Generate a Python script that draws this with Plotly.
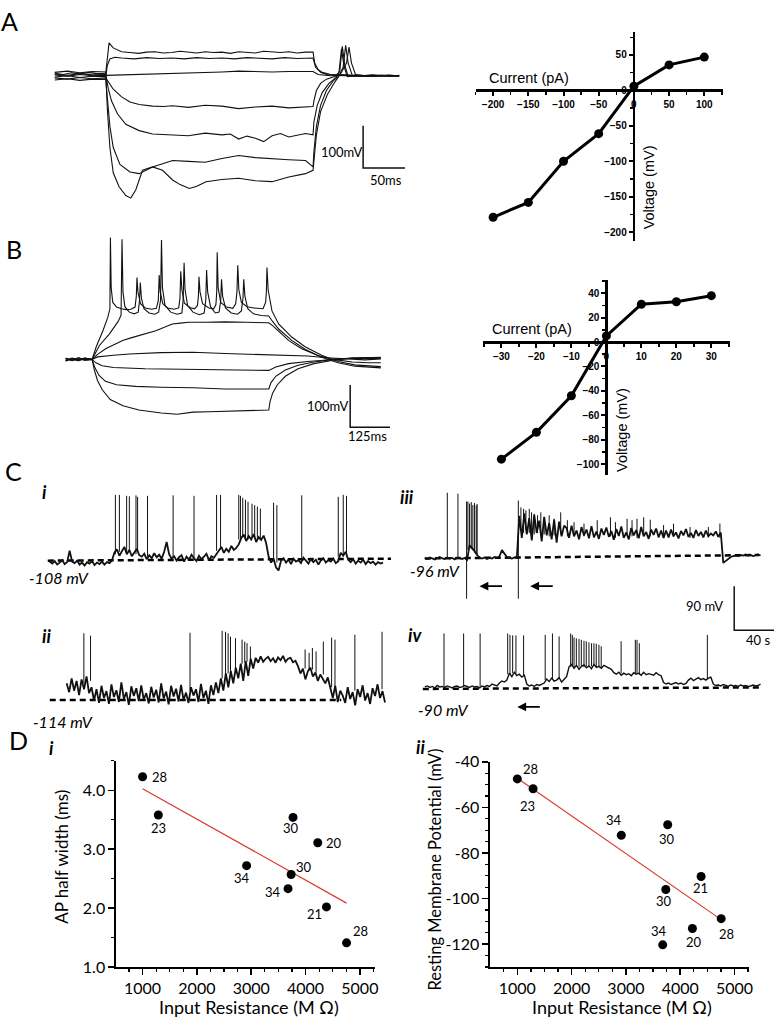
import numpy as np
import plotly.graph_objects as go

W, H = 780, 1028

# ---------------- Panel A: current-clamp steps (ms, mV relative to rest) ----------------
a1_t = [0,10,20,30,40,50,61,63,65,70,80,90,100,110,120,130,140,150,160,170,180,190,200,210,220,230,240,250,260,270,280,290,300,309,311,315,320,330,345,360,380,400,412]
a1_v = [6,3,7,4,8,5,6,40,78,66,57,55,53,56,57,54,55,58,56,54,57,55,56,53,57,55,54,58,56,55,57,54,56,56,30,15,8,3,2,-1,2,-1,1]
a2_t = [0,15,30,45,61,63,66,72,80,95,110,125,140,155,170,185,200,215,230,245,260,275,290,309,312,318,325,340,360,380,400,412]
a2_v = [-3,0,-4,-1,-2,25,40,44,42,40,43,41,42,40,43,41,42,40,43,42,40,43,41,42,20,8,3,1,-1,1,0,-1]
a3_t = [0,15,30,45,61,80,100,120,140,160,180,200,220,240,260,280,300,309,315,330,350,370,390,412]
a3_v = [2,-1,3,0,1,2,4,5,6,6,7,9,11,10,9,10,9,10,3,0,2,-1,1,0]
a4_t = [0,15,30,45,61,65,70,80,90,101,117,130,141,160,180,200,220,240,260,280,300,309,310,313,318,325,335,340,343,346,350,360,380,400,412]
a4_v = [-5,-8,-4,-7,-5,-18,-32,-50,-62,-68,-72,-73,-71,-75,-70,-72,-78,-74,-72,-76,-73,-73,-60,-35,-18,-8,-2,8,64,22,-2,1,-1,1,0]
a5_t = [0,15,30,45,61,64,68,75,85,101,117,140,160,180,200,210,220,230,240,250,260,270,280,300,309,310,314,320,328,336,341,344,347,351,360,380,400,412]
a5_v = [4,1,5,2,3,-30,-60,-90,-115,-130,-138,-140,-142,-136,-140,-138,-150,-143,-148,-156,-142,-137,-145,-137,-140,-110,-70,-40,-18,-5,12,70,25,-2,2,-1,1,0]
a6_t = [0,15,30,45,61,63,66,70,78,90,101,117,130,141,160,180,200,220,240,260,280,300,309,310,313,318,325,333,340,345,348,351,356,370,390,412]
a6_v = [-10,-7,-11,-8,-9,-60,-120,-170,-210,-228,-232,-216,-208,-201,-203,-205,-196,-189,-194,-197,-199,-201,-216,-180,-120,-70,-35,-12,0,20,72,30,0,-1,1,0]
a7_t = [0,15,30,45,61,63,66,70,77,85,91,97,105,117,129,141,150,161,170,181,200,220,240,260,280,300,309,310,313,318,326,335,342,349,352,355,360,380,400,412]
a7_v = [8,11,7,10,9,-80,-170,-230,-263,-284,-290,-270,-224,-216,-224,-247,-258,-267,-262,-251,-246,-243,-249,-251,-240,-232,-224,-200,-140,-85,-45,-15,5,30,68,30,2,-1,1,0]

ivA_current = [-200, -150, -100, -50, 0, 50, 100]
ivA_voltage = [-179, -158, -100, -61, 6, 36, 47]

# ---------------- Panel B ----------------
b_h1_t = [0,20,40,60,83,100,150,200,300,400,500,600,638,700,760,820,880,940,990]
b_h1_v = [3,-2,4,-1,0,6,10,13,16,17,14,12,11,10,8,4,1,-1,1]
b_h2_t = [0,20,40,60,83,95,115,150,250,350,450,550,620,638,660,700,760,820,880,940,990]
b_h2_v = [-4,1,-3,2,0,-8,-15,-19,-22,-23,-24,-26,-27,-26,-18,-10,-5,-2,2,3,2]
b_h3_t = [0,20,40,60,83,92,105,125,160,220,300,400,500,600,638,645,660,690,730,780,840,900,990]
b_h3_v = [2,-3,1,-2,0,-20,-38,-52,-60,-64,-66,-67,-70,-71,-70,-55,-40,-25,-14,-6,0,3,4]
b_h4_t = [0,20,40,60,83,90,100,115,140,180,230,300,350,400,450,500,560,600,638,642,650,665,690,730,780,840,900,990]
b_h4_v = [-2,2,-1,3,0,-25,-50,-72,-95,-110,-120,-127,-130,-125,-124,-123,-121,-120,-120,-100,-80,-60,-40,-22,-10,-2,3,5]
b_s1_t = [0,20,40,60,83,96,117,132,139,140.6,143,148,160,175,190,205,218,222,224,227,235,250,270,285,291,293.8,297,305,320,340,355,359,361.5,365,373,390,405,414,417,418.8,422,430,450,465,472,474.5,476,479,487,505,525,534,538,540.6,544,552,570,590,620,628,630.5,632.3,636,648,669,710,752,804,856,908,990]
b_s1_v = [-4,2,-3,3,0,30,68,99,120,289,170,135,124,120,118,119,124,150,194,160,132,122,119,121,140,200,160,132,122,119,122,145,209,165,133,123,120,128,150,196,160,132,122,120,130,160,254,170,135,124,121,132,160,223,165,135,125,122,120,135,160,218,165,115,84,53,30,10,-5,-13,-17]
b_s2_t = [0,20,40,60,83,106,137,165,174,177,180,186,200,215,228,232,234.4,238,246,262,280,292,298,301,304,312,330,350,365,369,372,375,383,400,420,435,440,442.7,446,455,470,482,487,489.6,493,502,520,540,552,557,559.4,563,572,590,615,638,650,669,710,752,804,856,908,990]
b_s2_v = [3,-2,4,-1,0,33,60,90,105,285,160,125,112,108,112,140,182,145,120,110,107,112,140,283,170,128,112,107,110,140,229,165,128,112,106,110,140,212,160,125,110,112,140,190,150,122,110,107,115,145,190,150,120,108,104,103,90,72,45,24,5,-8,-16,-20]
b_s3_t = [0,20,40,60,83,100,127,150,179,205,231,258,283,310,335,360,387,440,502,565,610,638,650,670,700,740,790,840,900,950,990]
b_s3_v = [-2,3,-1,2,0,12,26,35,45,51,57,62,68,76,84,86,88,88,89,88,87,87,80,65,45,26,10,0,-6,-8,-8]

ivB_current = [-30, -20, -10, 0, 10, 20, 30]
ivB_voltage = [-96, -74, -44, 5, 31, 33, 38]

# ---------------- Panel C: spontaneous activity (samples every 2.5 s, mV) ----------------
C_DT = 2.5
ci_v = [-110,-114,-109,-116,-112,-107,-115,-111,-88,-110,-113,-108,-116,-112,-118,-111,-114,-109,-117,-112,-115,-110,-116,-111,-113,-108,
        -92,-85,-98,-88,-80,-95,-86,-99,-90,-84,-97,
        -100,-94,-105,-97,-103,-93,-101,-96,-104,-90,-70,
        -95,-104,-99,-108,-101,-97,-110,-100,-106,-96,-103,-109,-98,-105,-100,-94,-107,-99,-102,-95,
        -88,-80,-92,-84,-90,-78,-86,-82,-75,
        -62,-55,-68,-58,-65,-54,-70,-60,-66,-57,-72,
        -100,-112,-104,-122,-128,
        -108,-103,-112,-106,-115,-104,-110,-107,-113,-102,-109,-114,-105,-111,-106,-116,-108,-103,-112,-107,
        -110,-104,-113,-109,-92,-98,-90,-106,-111,-105,-114,-108,-112,-106,-115,-109,-113,-110,-116,-111,-114,-112]
ci_spike_t = [66,70,77.3,80,86.7,88.3,98.3,124,145,167.7,171.7,190,191.7,194,196.7,199.3,203.3,206,208.7,211.7,225,228.3,253.3,290,295,298.3]
ci_spike_top = [26,26,24,23,25,22,24,25,24,26,26,26,24,20,16,12,8,5,2,-2,10,5,25,22,26,24]
ci_spike_base = [-95,-90,-92,-88,-95,-90,-100,-100,-102,-88,-85,-65,-62,-60,-62,-65,-60,-62,-64,-66,-110,-112,-108,-100,-96,-100]
ci_rest_t = [-2, 343]
ci_rest_v = [-108, -104]

cii_v = [-80,-98,-70,-95,-75,-104,-72,-92,-66,-100,
         -88,-115,-92,-120,-85,-110,-96,-122,-82,-108,-94,-118,-78,-112,-98,-124,-86,-106,-90,-116,
         -84,-113,-100,-121,-87,-109,-93,-119,-80,-111,-97,-123,-85,-107,-91,-117,-83,-114,-99,-120,
         -88,-105,-92,-118,-81,-110,-95,-122,-84,-104,-78,-100,
         -70,-95,-60,-88,-55,-80,-48,-70,
         -40,-75,-35,-65,-30,-50,-28,-38,-25,-36,-30,-26,-35,-29,-38,-27,-33,-24,-36,-30,-28,-37,-34,
         -45,-60,-50,-72,-55,-48,-66,-58,-75,-62,-70,-80,-68,
         -90,-110,-85,-118,-95,-105,-120,-88,-112,-98,-125,-92,-108,-84,-115,-100,-122,-90,-106,-82,-110,-96,-119]
cii_spike_t = [17.3,24,124,156.3,159.7,162.3,164.7,169.7,176.3,179,181.3,184.7,239.7,243.7,247,250.7,258,266.3,269.7,289.7,317]
cii_spike_top = [22,17,23,27,25,22,15,12,9,5,2,-5,-11,-18,-8,-15,5,13,9,19,25]
cii_spike_base = [-80,-75,-95,-70,-65,-60,-55,-50,-40,-38,-36,-35,-50,-55,-52,-58,-62,-88,-90,-95,-92]
cii_rest_t = [-17, 276]
cii_rest_v = [-114, -114]

ciii_v = [-96,-98,-95,-97,-99,-96,-94,-97,-98,-95,-97,-96,-99,-95,-97,-98,-96,
          -100,
          -70,-75,-82,-90,-95,
          -97,-95,-98,-96,-97,-94,-96,-93,-80,-86,-94,-96,-97,-95,-96,
          -10,-55,-5,-48,-15,-60,-8,-45,-20,-62,-12,-50,-25,-58,-18,-65,-22,-52,-30,
          -35,-55,-30,-52,-40,-58,-33,-50,-38,-56,-31,-54,-42,-57,-36,-49,-34,-53,-41,-59,
          -37,-51,-32,-55,-44,-58,-35,-50,-39,-56,-33,-52,-43,-57,-38,-49,-36,-54,-40,-55,
          -40,-54,-38,-52,-44,-56,-41,-50,-37,-53,-45,-55,-39,-51,-43,-54,-40,-52,-46,-50,-42,-53,-44,
          -106,-102,-98,-94,-92,-91,-92,-90,-91,-89,-91,-90,-92,-90,-89,-91]
ciii_spike_t = [22.6,33.3,43.3,45,46.7,48.3,50,51.7,52.6,96.6,99.3,101.6,105,107.3,110,113.3,116.6,120,125,130,136.6,143.3,150,160,173.3,186.6,191.6,203.3,208.3,213.3,220,226.6,240,250,266.6,285,296.6]
ciii_spike_top = [37,35,19,15,18,12,16,11,14,7,4,1,4,-3,-6,-9,-3,-13,-9,-16,-3,-19,-23,-26,-19,-13,-23,-16,-19,-16,-13,-18,-29,-26,-33,-33,-26]
ciii_spike_base = [-96,-96,-80,-75,-78,-80,-85,-88,-90,-40,-45,-40,-45,-42,-48,-45,-50,-48,-52,-50,-48,-52,-50,-52,-50,-52,-55,-50,-52,-55,-50,-52,-55,-52,-55,-52,-55]
ciii_defl_t = [42, 94]
ciii_defl_top = [19, 21]
ciii_defl_base = [-179, -179]
ciii_rest_t = [0, 336]
ciii_rest_v = [-97, -90]

civ_v = [-86,-84,-87,-85,-88,-83,-86,-85,-87,-84,-86,-88,-85,-84,-87,-86,-83,-85,-87,-84,-86,-85,-88,-84,-86,-83,-85,-80,-82,-84,
         -78,-74,-76,-72,
         -58,-65,-56,-63,-60,-66,-62,
         -80,-84,-82,-85,-81,-83,-80,-78,
         -70,-75,-68,-74,-72,-67,-76,-70,-65,
         -45,-40,-48,-42,-50,-44,-41,-47,-43,-49,-40,-46,-44,-48,-42,-45,-47,-50,
         -57,-60,-56,-62,-58,-61,-59,-63,-57,-60,-58,-62,-56,-61,-59,-60,-62,-57,-61,-63,
         -77,-80,-78,-81,-79,-77,-80,-78,-81,-79,
         -72,-68,-73,-70,-67,-71,-69,-72,-68,-66,
         -80,-83,-82,-84,-81,-83,-85,-82,-84,-83,-85,-82,-84,-83,-85,-84,-82,-84,-83,-80]
civ_spike_t = [19.3,39,55.6,83.3,85.6,88.3,91.6,99.3,121,128.3,135,146.6,148.3,150,152.3,155,157.3,160,162.3,165,167.6,170,172.3,175,177.3,197.3,211.6,213.3,215.6,284]
civ_spike_top = [23,23,23,23,20,19,19,19,20,23,17,23,20,15,13,12,10,8,7,5,3,3,2,0,-3,7,10,10,3,20]
civ_spike_base = [-86,-85,-86,-60,-62,-58,-60,-62,-72,-70,-68,-45,-44,-46,-44,-45,-43,-46,-44,-45,-44,-42,-46,-44,-47,-58,-60,-58,-61,-70]
civ_rest_t = [-2, 338]
civ_rest_v = [-90, -87]

# scale bar sizes
scaleA = (50, 100)   # ms, mV
scaleB = (125, 100)  # ms, mV
scaleC = (40, 90)    # s, mV

# ---------------- Panel D ----------------
cell_age = ['28', '23', '34', '30', '20', '30', '34', '21', '28']
input_res = [1000, 1290, 2915, 3770, 4225, 3735, 3678, 4385, 4755]
ap_half_width = [4.23, 3.58, 2.72, 3.54, 3.11, 2.57, 2.33, 2.02, 1.41]
rmp = [-47.5, -51.8, -72.2, -67.6, -113.1, -96.0, -120.3, -90.3, -108.8]

# label offsets (px) for D points
di_off = [(17, 0), (0, 13), (-5, 12), (-2, 11), (16, 0), (13, -8), (-15, 3), (-12, 7), (14, -12)]
dii_off = [(13, -10), (-6, 17), (-7, -15), (-1, 14), (2, 14), (-2, 12), (-4, -14), (-1, 12), (5, 15)]

# ================= helpers =================
def clamp(v):
    return min(1.0, max(0.0, v))

def xdom(a, b):
    return [clamp(a / W), clamp(b / W)]

def ydom(a, b):
    return [clamp(1 - b / H), clamp(1 - a / H)]

def px(x):
    return x / W

def py(y):
    return 1 - y / H

ARIAL = "Liberation Sans, Arial, sans-serif"
LATO = "Lato, Noto Sans, sans-serif"
INK = "#111111"

fig = go.Figure()

def ax_name(n, k):
    return f"{k}{'' if n == 1 else n}"

def line(n, x, y, width=1.0, color=INK, dash=None, **kw):
    fig.add_trace(go.Scatter(x=x, y=y, mode="lines",
                             line=dict(color=color, width=width, dash=dash),
                             xaxis=ax_name(n, "x"), yaxis=ax_name(n, "y"),
                             hoverinfo="skip", **kw))

def samples(n, v, width=1.0):
    fig.add_trace(go.Scatter(y=v, x0=0, dx=C_DT, mode="lines",
                             line=dict(color=INK, width=width),
                             xaxis=ax_name(n, "x"), yaxis=ax_name(n, "y"), hoverinfo="skip"))

def spikes(n, ts, lows, highs, width=1.0):
    xs, ys = [], []
    for t, lo, hi in zip(ts, lows, highs):
        xs += [t, t, None]
        ys += [lo, hi, None]
    line(n, xs, ys, width=width)

def scalebar(n, corner_x, corner_y, lx, ly):
    line(n, [corner_x, corner_x, corner_x + lx], [corner_y + ly, corner_y, corner_y], width=1.5)

# ---- A traces ----
for t, v in [(a1_t, a1_v), (a2_t, a2_v), (a3_t, a3_v), (a4_t, a4_v), (a5_t, a5_v), (a6_t, a6_v), (a7_t, a7_v)]:
    line(1, t, v, width=1.1)
scalebar(1, 368.9, -218.6, scaleA[0], scaleA[1])

# ---- A IV ----
fig.add_trace(go.Scatter(x=ivA_current, y=ivA_voltage, mode="lines+markers",
                         line=dict(color="black", width=3), marker=dict(color="black", size=9),
                         xaxis="x2", yaxis="y2", hoverinfo="skip"))

# ---- B traces ----
for t, v in [(b_h1_t, b_h1_v), (b_h2_t, b_h2_v), (b_h3_t, b_h3_v), (b_h4_t, b_h4_v),
             (b_s3_t, b_s3_v), (b_s2_t, b_s2_v), (b_s1_t, b_s1_v)]:
    line(3, t, v, width=1.1)
scalebar(3, 893.75, -160.5, scaleB[0], scaleB[1])

# ---- B IV ----
fig.add_trace(go.Scatter(x=ivB_current, y=ivB_voltage, mode="lines+markers",
                         line=dict(color="black", width=3), marker=dict(color="black", size=9),
                         xaxis="x4", yaxis="y4", hoverinfo="skip"))

# ---- C ----
DASH = "6px,4px"
line(5, ci_rest_t, ci_rest_v, width=2.5, color="black", dash=DASH)
samples(5, ci_v, 1.8)
spikes(5, ci_spike_t, ci_spike_base, ci_spike_top)

line(6, cii_rest_t, cii_rest_v, width=2.5, color="black", dash=DASH)
samples(6, cii_v, 1.8)
spikes(6, cii_spike_t, cii_spike_base, cii_spike_top)

line(7, ciii_rest_t, ciii_rest_v, width=2.5, color="black", dash=DASH)
samples(7, ciii_v, 1.8)
spikes(7, ciii_spike_t, ciii_spike_base, ciii_spike_top)
spikes(7, ciii_defl_t, ciii_defl_base, ciii_defl_top)

line(8, civ_rest_t, civ_rest_v, width=2.5, color="black", dash=DASH)
samples(8, civ_v, 1.4)
spikes(8, civ_spike_t, civ_spike_base, civ_spike_top)
scalebar(8, 311, 29.4, scaleC[0], scaleC[1])

# ---- D ----
fit1 = np.polyfit(input_res, ap_half_width, 1)
fit2 = np.polyfit(input_res, rmp, 1)
fx = [min(input_res), max(input_res)]
line(9, fx, list(np.polyval(fit1, fx)), width=1.2, color="#d93a2b")
line(10, fx, list(np.polyval(fit2, fx)), width=1.2, color="#d93a2b")
fig.add_trace(go.Scatter(x=input_res, y=ap_half_width, mode="markers",
                         marker=dict(color="black", size=9), xaxis="x9", yaxis="y9", hoverinfo="skip"))
fig.add_trace(go.Scatter(x=input_res, y=rmp, mode="markers",
                         marker=dict(color="black", size=9), xaxis="x10", yaxis="y10", hoverinfo="skip"))

# ================= axes =================
layout = dict(width=W, height=H, margin=dict(l=0, r=0, t=0, b=0),
              paper_bgcolor="white", plot_bgcolor="rgba(0,0,0,0)",
              showlegend=False, hovermode=False)

def hidden(n, xd, yd, xr, yr):
    layout[ax_name(n, "xaxis")] = dict(domain=xd, range=xr, visible=False, anchor=ax_name(n, "y"), fixedrange=True)
    layout[ax_name(n, "yaxis")] = dict(domain=yd, range=yr, visible=False, anchor=ax_name(n, "x"), fixedrange=True)

hidden(1, xdom(50, 415), ydom(25, 200), [-5.95, 428.4], [-309.4, 97.7])
hidden(3, xdom(60, 400), ydom(225, 440), [-18.75, 1043.75], [-195.4, 304.7])
hidden(5, xdom(40, 400), ydom(480, 600), [-10, 350], [-186, 54])
hidden(6, xdom(40, 400), ydom(620, 720), [-27, 333], [-148, 52])
hidden(7, xdom(405, 775), ydom(480, 610), [-22, 348], [-199.4, 60.6])
hidden(8, xdom(405, 780), ydom(580, 720), [-22, 353], [-146.6, 133.4])

iv_tick = dict(family=ARIAL, size=10, color="black", weight="bold")

def iv_axis(dom, rng, pos, vals, minor_dt):
    return dict(domain=dom, range=rng, anchor="free", position=pos, showline=True,
                linewidth=2.5, linecolor="black", ticks="outside", ticklen=4, tickwidth=2,
                tickcolor="black", tickvals=vals, tickfont=iv_tick, showgrid=False,
                zeroline=False, fixedrange=True,
                minor=dict(dtick=minor_dt, tick0=0, ticks="outside", ticklen=3,
                           tickwidth=1.5, tickcolor="black", showgrid=False))

layout["xaxis2"] = iv_axis(xdom(478, 727), [-225, 127], py(82), [-200, -150, -100, -50, 0, 50, 100], 25)
layout["yaxis2"] = iv_axis(ydom(22, 235), [-212, 83], px(637), [50, 0, -50, -100, -150, -200], 25)
layout["xaxis4"] = iv_axis(xdom(485, 734), [-35.4, 35.4], py(338.3), [-30, -20, -10, 0, 10, 20, 30], 5)
layout["yaxis4"] = iv_axis(ydom(275, 473.3), [-108.6, 50.9], px(609.5), [40, 20, 0, -20, -40, -60, -80, -100], 10)

d_tick = dict(family=LATO, size=16, color="black")

def d_axis(dom, rng, anchor, vals, texts, minor_dt, tick0):
    return dict(domain=dom, range=rng, anchor=anchor, showline=True, linewidth=2,
                linecolor="black", ticks="outside", ticklen=6, tickwidth=1.5, tickcolor="black",
                tickvals=vals, ticktext=texts, tickfont=d_tick, showgrid=False, zeroline=False,
                fixedrange=True,
                minor=dict(dtick=minor_dt, tick0=tick0, ticks="outside", ticklen=3, tickwidth=1.2,
                           tickcolor="black", showgrid=False))

res_ticks = [1000, 2000, 3000, 4000, 5000]
rmp_ticks = [-40, -60, -80, -100, -120]
layout["xaxis9"] = d_axis(xdom(117, 377), [518, 5280], "y9", res_ticks, [str(v) for v in res_ticks], 250, 0)
layout["yaxis9"] = d_axis(ydom(765, 975), [1.0, 4.5], "x9", [1, 2, 3, 4], ["1.0", "2.0", "3.0", "4.0"], 0.5, 1.0)
layout["xaxis10"] = d_axis(xdom(493, 753), [505, 5270], "y10", res_ticks, [str(v) for v in res_ticks], 250, 0)
layout["yaxis10"] = d_axis(ydom(766, 975), [-130, -40], "x10", rmp_ticks, [str(v) for v in rmp_ticks], 5, -40)

fig.update_layout(**layout)

# ================= annotations =================
ann = []

def text(x, y, s, size=13, family=LATO, italic=False, bold=False, angle=0, color="black", anchor="center"):
    ann.append(dict(x=px(x), y=py(y), xref="paper", yref="paper", text=s, showarrow=False,
                    xanchor=anchor, yanchor="middle", textangle=angle,
                    font=dict(family=family, size=size, color=color,
                              style="italic" if italic else "normal",
                              weight="bold" if bold else "normal")))

for s, x, y in [("A", 10, 11), ("B", 14, 243), ("C", 14, 470), ("D", 19, 744)]:
    text(x, y, s, size=25, family=LATO)

text(343, 145, "100mV", 13)
text(388, 173, "50ms", 13)
text(329, 403, "100mV", 13)
text(369, 434, "125ms", 13)
text(708, 607, "90 mV", 13)
text(776, 642, "40 s", 13, anchor="right")

text(532, 69, "Current (pA)", 14.5, ARIAL)
text(652, 181, "Voltage (mV)", 14.5, ARIAL, angle=-90)
text(535, 325, "Current (pA)", 14.5, ARIAL)
text(625, 428, "Voltage (mV)", 14.5, ARIAL, angle=-90)

for s, x, y in [("i", 45, 491), ("ii", 47, 638), ("iii", 409, 496), ("iv", 417, 637), ("i", 52, 752), ("ii", 423, 751)]:
    text(x, y, s, 18, LATO, italic=True, bold=True)

for s, x, y in [("-108 mV", 59, 578), ("-114 mV", 63, 725), ("-96 mV", 437, 571), ("-90 mV", 446, 713)]:
    text(x, y, s, 16, LATO, italic=True)

for hx, hy in [(482, 587), (533, 587), (520, 710)]:
    ann.append(dict(x=px(hx), y=py(hy), xref="paper", yref="paper", ax=24, ay=0, text="",
                    showarrow=True, arrowhead=2, arrowsize=1.1, arrowwidth=1.6, arrowcolor="black"))

text(61, 863, "AP half width (ms)", 17, LATO, angle=-90)
text(437, 876, "Resting Membrane Potential (mV)", 16.5, LATO, angle=-90)
text(250, 1016, "Input Resistance (M Ω)", 18, LATO)
text(625, 1016, "Input Resistance (M Ω)", 18, LATO)

for (lab, xv, yv, off) in zip(cell_age, input_res, ap_half_width, di_off):
    ann.append(dict(x=xv, y=yv, xref="x9", yref="y9", text=lab, showarrow=False,
                    xshift=off[0], yshift=-off[1], font=dict(family=LATO, size=13, color="black")))
for (lab, xv, yv, off) in zip(cell_age, input_res, rmp, dii_off):
    ann.append(dict(x=xv, y=yv, xref="x10", yref="y10", text=lab, showarrow=False,
                    xshift=off[0], yshift=-off[1], font=dict(family=LATO, size=13, color="black")))

fig.update_layout(annotations=ann)

post = ("document.documentElement.style.margin='0';document.documentElement.style.padding='0';"
        "document.body.style.margin='0';document.body.style.padding='0';"
        "document.body.style.overflow='hidden';"
        "var gd=document.getElementById('{plot_id}');"
        "gd.style.position='absolute';gd.style.left='0px';gd.style.top='0px';")
fig.write_html("out.html", post_script=post, config={"displayModeBar": False, "staticPlot": True})
